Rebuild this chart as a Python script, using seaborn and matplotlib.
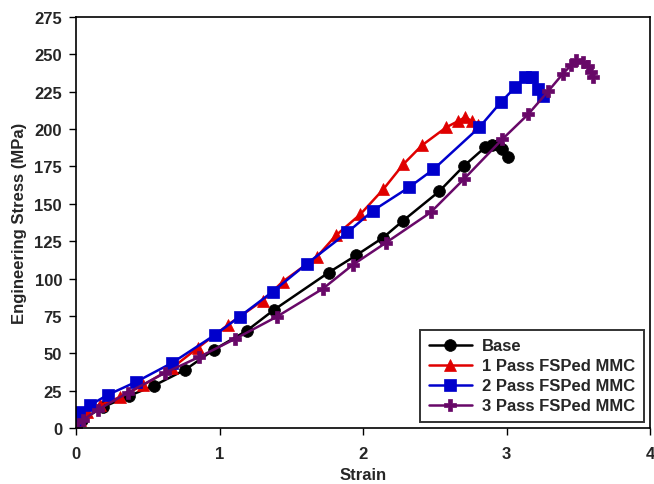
import matplotlib
matplotlib.use("Agg")
import matplotlib.pyplot as plt
import seaborn as sns
import pandas as pd

# ---- data ----
base_x = [0.00, 0.04, 0.19, 0.37, 0.54, 0.76, 0.96, 1.19, 1.38, 1.76, 1.95, 2.14, 2.28, 2.53, 2.70, 2.85, 2.90, 2.94, 2.97, 3.01]
base_y = [0.0, 5.4, 14.1, 21.5, 28.2, 38.9, 52.3, 65.1, 79.1, 104.0, 115.4, 127.4, 138.8, 158.3, 175.1, 187.8, 189.1, 189.1, 186.5, 181.1]

p1_x = [0.00, 0.03, 0.08, 0.17, 0.31, 0.47, 0.67, 0.85, 1.06, 1.30, 1.44, 1.68, 1.81, 1.98, 2.14, 2.28, 2.41, 2.58, 2.66, 2.71, 2.76, 2.80]
p1_y = [0.0, 5.4, 10.7, 15.4, 20.8, 28.8, 40.2, 53.7, 69.1, 85.2, 97.9, 114.7, 128.8, 142.9, 159.6, 176.4, 189.1, 201.2, 205.2, 207.9, 205.2, 202.6]

p2_x = [0.00, 0.02, 0.10, 0.22, 0.42, 0.67, 0.97, 1.14, 1.37, 1.61, 1.89, 2.07, 2.32, 2.49, 2.81, 2.96, 3.06, 3.13, 3.18, 3.22, 3.25]
p2_y = [0.0, 10.7, 15.4, 22.1, 30.9, 43.6, 62.4, 74.5, 91.2, 110.0, 130.8, 145.5, 161.0, 173.0, 201.2, 218.0, 228.0, 234.8, 234.8, 226.7, 222.0]

p3_x = [0.00, 0.05, 0.15, 0.36, 0.62, 0.86, 1.11, 1.40, 1.72, 1.93, 2.16, 2.47, 2.70, 2.97, 3.15, 3.29, 3.39, 3.45, 3.48, 3.53, 3.57, 3.59, 3.60]
p3_y = [0.0, 5.4, 12.1, 23.5, 36.9, 47.6, 59.7, 74.5, 93.2, 109.3, 124.0, 144.2, 166.3, 193.2, 209.9, 225.4, 236.8, 242.8, 246.2, 244.8, 242.1, 238.1, 234.8]

labels = ["Base", "1 Pass FSPed MMC", "2 Pass FSPed MMC", "3 Pass FSPed MMC"]
x_ticks = [0, 1, 2, 3, 4]
y_ticks = [0, 25, 50, 75, 100, 125, 150, 175, 200, 225, 250, 275]

series = [(base_x, base_y), (p1_x, p1_y), (p2_x, p2_y), (p3_x, p3_y)]
colors = ["#000000", "#E00000", "#0000CC", "#680868"]
markers = ["o", "^", "s", "P"]
msizes = [8.5, 8.5, 8, 8.5]

sns.set_style("white")
plt.rcParams["font.family"] = ["Liberation Sans", "DejaVu Sans"]
plt.rcParams["font.weight"] = "bold"

fig = plt.figure(figsize=(6.54, 4.85), dpi=100)
ax = fig.add_axes([0.1162, 0.1155, 0.878, 0.8475])

for (xs, ys), lab, c, m, ms in zip(series, labels, colors, markers, msizes):
    df = pd.DataFrame({"x": xs, "y": ys})
    sns.lineplot(data=df, x="x", y="y", ax=ax, sort=False, estimator=None,
                 color=c, marker=m, markersize=ms, markeredgewidth=0.5,
                 markeredgecolor=c, linewidth=1.8, label=lab)

ax.set_xlim(0, 4)
ax.set_ylim(0, 275)
ax.set_xticks(x_ticks)
ax.set_yticks(y_ticks)
ax.set_xticklabels([str(t) for t in x_ticks], fontsize=12, fontweight="bold")
ax.set_yticklabels([str(t) for t in y_ticks], fontsize=12, fontweight="bold")
ax.tick_params(axis="both", direction="out", length=5, width=1, color="black",
               bottom=True, left=True, top=False, right=False, pad=5)
ax.tick_params(axis="x", pad=8)
for s in ax.spines.values():
    s.set_color("black")
    s.set_linewidth(1.2)

ax.set_xlabel("Strain", fontsize=12, fontweight="bold", labelpad=4)
ax.set_ylabel("Engineering Stress (MPa)", fontsize=12, fontweight="bold", labelpad=5)

leg = ax.legend(loc="lower right", bbox_to_anchor=(1.003, -0.005), frameon=True,
                fancybox=False, edgecolor="black",
                prop={"weight": "bold", "size": 12}, handlelength=2.6,
                borderpad=0.5, labelspacing=0.3, handletextpad=0.6)
leg.get_frame().set_linewidth(1.4)

fig.savefig("out.png", dpi=100)
